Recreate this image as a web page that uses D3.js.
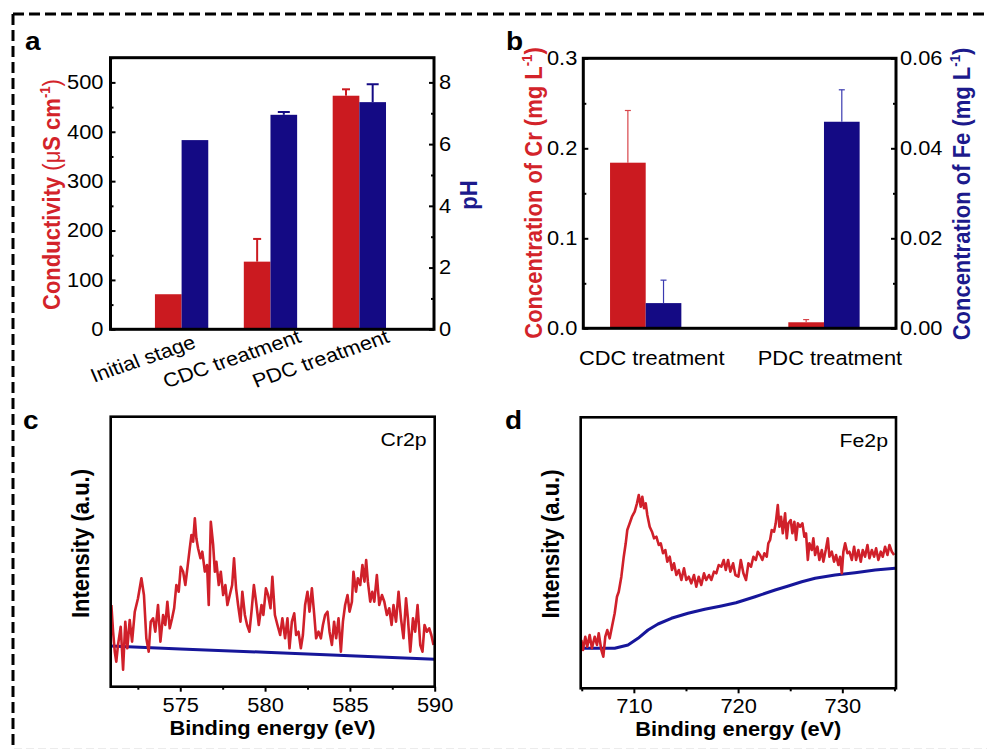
<!DOCTYPE html>
<html><head><meta charset="utf-8">
<script src="https://cdn.jsdelivr.net/npm/d3@7"></script>
<style>
body{margin:0;background:#fff}
svg{display:block}
text{font-family:"Liberation Sans",Arial,Helvetica,sans-serif}
</style>
</head><body>
<svg id="fig" width="987" height="750"></svg>
<script>
// ---------------- DATA ----------------
const catsA = ["Initial stage", "CDC treatment", "PDC treatment"];
const conductivity = [71, 137, 473];
const conductivityErr = [0, 46, 13];
const pHValues = [6.13, 6.95, 7.36];
const pHErr = [0, 0.09, 0.58];
const aLeftTicks = [0, 100, 200, 300, 400, 500];
const aLeftMinor = [50, 150, 250, 350, 450, 550];
const aRightTicks = [0, 2, 4, 6, 8];
const aRightMinor = [1, 3, 5, 7];

const catsB = ["CDC treatment", "PDC treatment"];
const crConc = [0.184, 0.0067];
const crErr = [0.058, 0.003];
const feConc = [0.0056, 0.0459];
const feErr = [0.0051, 0.0071];
const bLeftTicks = [0, 0.1, 0.2, 0.3];
const bLeftMinor = [0.05, 0.15, 0.25];
const bRightTicks = [0, 0.02, 0.04, 0.06];
const bRightMinor = [0.01, 0.03, 0.05];

const cTicks = [575, 580, 585, 590];
const cMinor = [572.5, 577.5, 582.5, 587.5];
const dTicks = [710, 720, 730];
const dMinor = [705, 715, 725, 735];

// Cr2p XPS spectrum [binding energy (eV), intensity (a.u.)]
const crSpectrum = [
[570.94,81.7],[571.04,55],[571.14,35],[571.23,25],[571.33,41.7],[571.49,60],[571.63,17],[571.76,65],[571.88,38.4],[572.02,66.7],[572.16,45],[572.32,75],[572.51,88.4],[572.71,108.4],[572.86,91.7],[573.00,48.4],[573.14,35],[573.26,65],[573.40,68.4],[573.53,55],[573.69,81.7],[573.83,45],[573.99,71.7],[574.12,61.7],[574.24,85],[574.38,58.4],[574.52,68.4],[574.64,78.4],[574.77,101.7],[574.91,95],[575.03,120],[575.17,115],[575.30,101.7],[575.42,118.4],[575.56,138.4],[575.66,151.7],[575.76,145],[575.86,168.4],[575.95,148.4],[576.05,138.4],[576.19,128.4],[576.30,135],[576.45,115],[576.58,121.7],[576.68,81.7],[576.80,165],[576.94,141.7],[577.04,115],[577.13,125],[577.27,101.7],[577.39,115],[577.53,91.7],[577.66,101.7],[577.78,81.7],[577.92,91.7],[578.06,101.7],[578.17,128.4],[578.29,98.4],[578.41,81.7],[578.55,65],[578.66,95],[578.81,71.7],[578.94,61.7],[579.08,55],[579.20,75],[579.34,101.7],[579.47,85],[579.63,61.7],[579.79,81.7],[579.90,71.7],[580.05,98.4],[580.18,91.7],[580.32,78.4],[580.43,110],[580.58,71.7],[580.73,61.7],[580.89,51.7],[581.02,68.4],[581.18,48.4],[581.32,68.4],[581.44,38.4],[581.58,65],[581.72,73.4],[581.83,51.7],[581.97,55],[582.11,38.4],[582.23,51.7],[582.36,81.7],[582.50,95],[582.62,75],[582.76,98.4],[582.90,71.7],[583.01,48.4],[583.15,55],[583.29,48.4],[583.41,61.7],[583.54,71.7],[583.68,75],[583.80,55],[583.94,41.7],[584.07,65],[584.19,48.4],[584.33,68.4],[584.47,35],[584.59,65],[584.72,81.7],[584.86,91.7],[584.98,75],[585.12,85],[585.21,115],[585.36,95],[585.47,108.4],[585.61,101.7],[585.74,121.7],[585.86,105],[585.96,126.7],[586.06,105],[586.20,85],[586.32,95],[586.44,85],[586.59,111.7],[586.73,81.7],[586.89,91.7],[587.03,85],[587.18,71.7],[587.32,78.4],[587.46,61.7],[587.57,81.7],[587.72,65],[587.87,95],[588.01,68.4],[588.16,48.4],[588.31,88.4],[588.42,68.4],[588.56,35],[588.72,68.4],[588.85,55],[588.99,81.7],[589.15,41.7],[589.28,35],[589.40,61.7],[589.54,55],[589.68,58.4],[589.80,51.7],[589.93,41.7]
];
const crBackground = [[570.9,40.7],[575,37.8],[580,34.4],[585,30.9],[590,27.4]];

// Fe2p XPS spectrum [binding energy (eV), intensity (a.u.)]
const feSpectrum = [
[704.96,48.3],[705.12,38.3],[705.34,51.6],[705.53,41.6],[705.76,53.3],[705.98,40],[706.24,51.6],[706.46,43.3],[706.63,55],[706.88,38.3],[707.07,31.6],[707.26,51.6],[707.45,58.3],[707.68,50],[707.90,61.6],[708.16,75],[708.38,91.6],[708.55,96.6],[708.80,111.6],[709.03,131.6],[709.22,145],[709.37,158.3],[709.60,165],[709.82,171.6],[710.08,176.6],[710.30,185],[710.47,193.3],[710.66,181.6],[710.81,191.6],[710.98,180],[711.14,185],[711.29,173.3],[711.52,161.6],[711.74,156.6],[711.94,150],[712.16,151.6],[712.39,143.3],[712.58,145],[712.80,135],[713.02,138.3],[713.21,126.6],[713.44,131.6],[713.66,118.3],[713.85,125],[714.08,113.3],[714.31,118.3],[714.56,108.3],[714.81,120],[715.03,108.3],[715.27,111.6],[715.51,105],[715.77,113.3],[715.99,101.6],[716.22,111.6],[716.47,103.3],[716.73,115],[716.95,108.3],[717.21,113.3],[717.43,108.3],[717.69,116.6],[717.91,115],[718.14,123.3],[718.39,121.6],[718.62,128.3],[718.82,118.3],[719.04,128.3],[719.26,116.6],[719.52,125],[719.74,113.3],[720.03,111.6],[720.26,128.3],[720.51,115],[720.76,108.3],[720.99,125],[721.24,121.6],[721.47,131.6],[721.70,128.3],[721.89,136.6],[722.11,133.3],[722.33,128.3],[722.52,135],[722.75,131.6],[722.90,145],[723.07,148.3],[723.23,158.3],[723.45,156.6],[723.61,165],[723.81,183.3],[723.96,161.6],[724.12,171.6],[724.29,155],[724.51,175],[724.67,150],[724.82,165],[725.05,168.3],[725.21,155],[725.40,166.6],[725.56,148.3],[725.73,165],[725.95,161.6],[726.17,165],[726.36,151.6],[726.52,155],[726.69,128.3],[726.84,145],[727.07,138.3],[727.22,150],[727.39,133.3],[727.61,141.6],[727.80,128.3],[728.03,138.3],[728.18,126.6],[728.41,138.3],[728.61,150],[728.76,131.6],[728.99,136.6],[729.21,126.6],[729.40,133.3],[729.62,123.3],[729.79,131.6],[729.95,115],[730.10,136.6],[730.27,145],[730.49,135],[730.68,136.6],[730.91,128.3],[731.13,141.6],[731.32,128.3],[731.54,138.3],[731.77,126.6],[731.96,138.3],[732.18,131.6],[732.41,143.3],[732.60,130],[732.83,138.3],[733.05,131.6],[733.24,140],[733.46,128.3],[733.69,136.6],[733.88,131.6],[734.10,141.6],[734.33,133.3],[734.52,143.3],[734.75,136.6],[734.97,133.3]
];
const feBackground = [[704.93,40],[708.16,40],[709.44,43.3],[710.40,50],[711.36,58.3],[712.32,64.3],[713.60,70],[715.20,75],[716.80,79],[718.39,82.3],[719.80,85.5],[721.63,91.6],[723.55,98.3],[724.82,102.3],[726.11,106.6],[727.39,110],[729.31,113.3],[731.23,115.6],[733.15,118.3],[735.07,120]];

// ---------------- STYLE ----------------
const RED = "#cb1a20", BLUE = "#140a84";
const RED_TXT = "#d3232a", BLUE_TXT = "#1c1a8c";
const LINE_RED = "#d0202a", LINE_BLUE = "#16169a";
const SX = 1.12;      // horizontal stretch of the original figure
const TICK_FS = 19.5;

const svg = d3.select("#fig");

// outer dashed border
svg.append("line").attr("x1", 13).attr("y1", 14).attr("x2", 987).attr("y2", 14)
  .attr("stroke", "#000").attr("stroke-width", 3).attr("stroke-dasharray", "11,5");
svg.append("line").attr("x1", 13).attr("y1", 14).attr("x2", 13).attr("y2", 750)
  .attr("stroke", "#000").attr("stroke-width", 3).attr("stroke-dasharray", "11,5");
svg.append("line").attr("x1", 14).attr("y1", 748.5).attr("x2", 987).attr("y2", 748.5)
  .attr("stroke", "#ececec").attr("stroke-width", 1).attr("stroke-dasharray", "8,4");

function txt(parent, x, y, str, o = {}) {
  const t = parent.append("text")
    .attr("transform", `translate(${x},${y}) scale(${SX},1)` + (o.rot ? ` rotate(${o.rot})` : ""))
    .attr("text-anchor", o.anchor || "middle")
    .attr("font-size", o.size || TICK_FS)
    .attr("font-weight", o.weight || "normal")
    .attr("fill", o.fill || "#000");
  if (str !== null) t.text(str);
  return t;
}
function stretchTicks(g) {
  g.selectAll(".tick text").each(function () {
    const x = +this.getAttribute("x") || 0;
    d3.select(this).attr("transform", `translate(${x},0) scale(${SX},1) translate(${-x},0)`)
      .attr("font-size", TICK_FS).attr("fill", "#000")
      .style("font-family", '"Liberation Sans",Arial,sans-serif');
  });
}
function styleAxis(g, sw) {
  g.select(".domain").remove();
  g.selectAll(".tick line").attr("stroke", "#000").attr("stroke-width", sw);
  stretchTicks(g);
}
function addAxis(parent, axis, tx, ty, sw) {
  const g = parent.append("g").attr("transform", `translate(${tx},${ty})`).call(axis);
  styleAxis(g, sw);
  return g;
}
function titleSup(parent, x, y, before, sup, after, o) {
  const t = txt(parent, x, y, null, o);
  before.forEach(p => t.append("tspan").attr("font-weight", p[1]).text(p[0]));
  t.append("tspan").attr("font-size", o.size * 0.6).attr("dy", -o.size * 0.4).attr("font-weight", "bold").text(sup);
  t.append("tspan").attr("dy", o.size * 0.4).attr("font-weight", after[1]).text(after[0]);
  return t;
}

// ================= PANEL a =================
{
  const L = 110.5, R = 434, T = 57.7, B = 329.3;
  const g = svg.append("g");
  const x = d3.scaleLinear().domain([0.2, 3.84]).range([L, R]);
  const y = d3.scaleLinear().domain([0, 550]).range([B, T]);
  const y2 = d3.scaleLinear().domain([0, 8.8]).range([B, T]);
  const bw = 0.3;

  catsA.forEach((c, i) => {
    const p = i + 1;
    g.append("rect").attr("x", x(p - bw)).attr("width", x(p) - x(p - bw))
      .attr("y", y(conductivity[i])).attr("height", y(0) - y(conductivity[i])).attr("fill", RED);
    g.append("rect").attr("x", x(p)).attr("width", x(p + bw) - x(p))
      .attr("y", y2(pHValues[i])).attr("height", y2(0) - y2(pHValues[i])).attr("fill", BLUE);
    if (conductivityErr[i] > 0) {
      const cx = x(p - bw / 2), top = y(conductivity[i] + conductivityErr[i]);
      g.append("line").attr("x1", cx).attr("x2", cx).attr("y1", y(conductivity[i])).attr("y2", top)
        .attr("stroke", RED).attr("stroke-width", 2);
      g.append("line").attr("x1", cx - 4).attr("x2", cx + 4).attr("y1", top).attr("y2", top)
        .attr("stroke", RED).attr("stroke-width", 2);
    }
    if (pHErr[i] > 0) {
      const cx = x(p + bw / 2), top = y2(pHValues[i] + pHErr[i]);
      g.append("line").attr("x1", cx).attr("x2", cx).attr("y1", y2(pHValues[i])).attr("y2", top)
        .attr("stroke", BLUE).attr("stroke-width", 2);
      g.append("line").attr("x1", cx - 6).attr("x2", cx + 6).attr("y1", top).attr("y2", top)
        .attr("stroke", BLUE).attr("stroke-width", 2);
    }
    txt(g, x(p) - 36, 365, c, { rot: -21 });
  });

  addAxis(g, d3.axisLeft(y).tickValues(aLeftTicks).tickSize(-5).tickPadding(7), L, 0, 2);
  addAxis(g, d3.axisLeft(y).tickValues(aLeftMinor).tickSize(-3).tickFormat(""), L, 0, 2);
  addAxis(g, d3.axisRight(y2).tickValues(aRightTicks).tickSize(-5).tickPadding(5), R, 0, 2);
  addAxis(g, d3.axisRight(y2).tickValues(aRightMinor).tickSize(-3).tickFormat(""), R, 0, 2);

  g.append("rect").attr("x", L).attr("y", T).attr("width", R - L).attr("height", B - T)
    .attr("fill", "none").attr("stroke", "#000").attr("stroke-width", 3);

  titleSup(g, 60, 194.5, [["Conductivity ", "bold"], ["(μ", "normal"], ["S cm", "bold"]], "-1", [")", "normal"],
    { rot: -90, size: 22, fill: RED_TXT });
  txt(g, 477, 195, "pH", { rot: -90, size: 22, weight: "bold", fill: BLUE_TXT });
  txt(g, 25, 50, "a", { anchor: "start", size: 25, weight: "bold" });
}

// ================= PANEL b =================
{
  const L = 583.3, R = 896, T = 58.3, B = 328.3;
  const g = svg.append("g");
  const x = d3.scaleLinear().domain([0.65, 2.404]).range([L, R]);
  const y = d3.scaleLinear().domain([0, 0.3]).range([B, T]);
  const y2 = d3.scaleLinear().domain([0, 0.06]).range([B, T]);
  const bw = 0.2;

  catsB.forEach((c, i) => {
    const p = i + 1;
    g.append("rect").attr("x", x(p - bw)).attr("width", x(p) - x(p - bw))
      .attr("y", y(crConc[i])).attr("height", y(0) - y(crConc[i])).attr("fill", RED);
    g.append("rect").attr("x", x(p)).attr("width", x(p + bw) - x(p))
      .attr("y", y2(feConc[i])).attr("height", y2(0) - y2(feConc[i])).attr("fill", BLUE);
    {
      const cx = x(p - bw / 2), top = y(crConc[i] + crErr[i]);
      g.append("line").attr("x1", cx).attr("x2", cx).attr("y1", y(crConc[i])).attr("y2", top)
        .attr("stroke", "#d8454a").attr("stroke-width", 1.2);
      g.append("line").attr("x1", cx - 3).attr("x2", cx + 3).attr("y1", top).attr("y2", top)
        .attr("stroke", "#d8454a").attr("stroke-width", 1.2);
    }
    {
      const cx = x(p + bw / 2), top = y2(feConc[i] + feErr[i]);
      g.append("line").attr("x1", cx).attr("x2", cx).attr("y1", y2(feConc[i])).attr("y2", top)
        .attr("stroke", "#3a3ab0").attr("stroke-width", 1.2);
      g.append("line").attr("x1", cx - 3).attr("x2", cx + 3).attr("y1", top).attr("y2", top)
        .attr("stroke", "#3a3ab0").attr("stroke-width", 1.2);
    }
    txt(g, x(p) + 6, 365, c, { size: 19.5 });
  });

  addAxis(g, d3.axisLeft(y).tickValues(bLeftTicks).tickSize(-5).tickPadding(6).tickFormat(d3.format(".1f")), L, 0, 2);
  addAxis(g, d3.axisLeft(y).tickValues(bLeftMinor).tickSize(-3).tickFormat(""), L, 0, 2);
  addAxis(g, d3.axisRight(y2).tickValues(bRightTicks).tickSize(-5).tickPadding(4).tickFormat(d3.format(".2f")), R, 0, 2);
  addAxis(g, d3.axisRight(y2).tickValues(bRightMinor).tickSize(-3).tickFormat(""), R, 0, 2);

  g.append("rect").attr("x", L).attr("y", T).attr("width", R - L).attr("height", B - T)
    .attr("fill", "none").attr("stroke", "#000").attr("stroke-width", 3);

  titleSup(g, 541.5, 193, [["Concentration of Cr (mg L", "bold"]], "-1", [")", "bold"],
    { rot: -90, size: 22, weight: "bold", fill: RED_TXT });
  titleSup(g, 970, 194, [["Concentration of Fe (mg L", "bold"]], "-1", [")", "bold"],
    { rot: -90, size: 22, weight: "bold", fill: BLUE_TXT });
  txt(g, 506, 50, "b", { anchor: "start", size: 25, weight: "bold" });
}

// ================= PANELS c & d =================
function spectrumPanel(o) {
  const g = svg.append("g");
  const x = d3.scaleLinear().domain(o.xDomain).range([o.L, o.R]);
  const y = d3.scaleLinear().domain(o.yDomain).range([o.B, o.T]);
  const line = d3.line().x(d => x(d[0])).y(d => y(d[1]));
  g.append("path").datum(o.bg).attr("d", line).attr("fill", "none")
    .attr("stroke", LINE_BLUE).attr("stroke-width", 3).attr("stroke-linejoin", "round");
  g.append("path").datum(o.spec).attr("d", line).attr("fill", "none")
    .attr("stroke", LINE_RED).attr("stroke-width", 2.6).attr("stroke-linejoin", "round");
  addAxis(g, d3.axisBottom(x).tickValues(o.ticks).tickSize(5).tickPadding(6).tickFormat(d3.format("d")), 0, o.B, 2);
  addAxis(g, d3.axisBottom(x).tickValues(o.minor).tickSize(3).tickFormat(""), 0, o.B, 2);
  g.append("rect").attr("x", o.L).attr("y", o.T).attr("width", o.R - o.L).attr("height", o.B - o.T)
    .attr("fill", "none").attr("stroke", "#000").attr("stroke-width", 2.6);
  txt(g, o.yTitleX, o.yTitleY, "Intensity (a.u.)", { rot: -90, size: 22, weight: "bold" });
  txt(g, o.xTitleX, o.xTitleY, "Binding energy (eV)", { size: 19.5, weight: "bold" });
  txt(g, o.R - 8, o.T + 29.5, o.name, { anchor: "end", size: 19 });
  txt(g, o.labelX, o.labelY, o.label, { anchor: "start", size: 25, weight: "bold" });
}

spectrumPanel({
  L: 110.7, R: 434.7, T: 416.7, B: 686.7,
  xDomain: [570.9, 590], yDomain: [0, 270],
  spec: crSpectrum, bg: crBackground, ticks: cTicks, minor: cMinor,
  yTitleX: 89, yTitleY: 543.5, xTitleX: 272.5, xTitleY: 735,
  name: "Cr2p", label: "c", labelX: 23, labelY: 428.5
});
spectrumPanel({
  L: 580.7, R: 896, T: 417.3, B: 688.3,
  xDomain: [704.9, 735.15], yDomain: [0, 271],
  spec: feSpectrum, bg: feBackground, ticks: dTicks, minor: dMinor,
  yTitleX: 559, yTitleY: 544, xTitleX: 738.3, xTitleY: 736,
  name: "Fe2p", label: "d", labelX: 505, labelY: 429
});
</script>
</body></html>
